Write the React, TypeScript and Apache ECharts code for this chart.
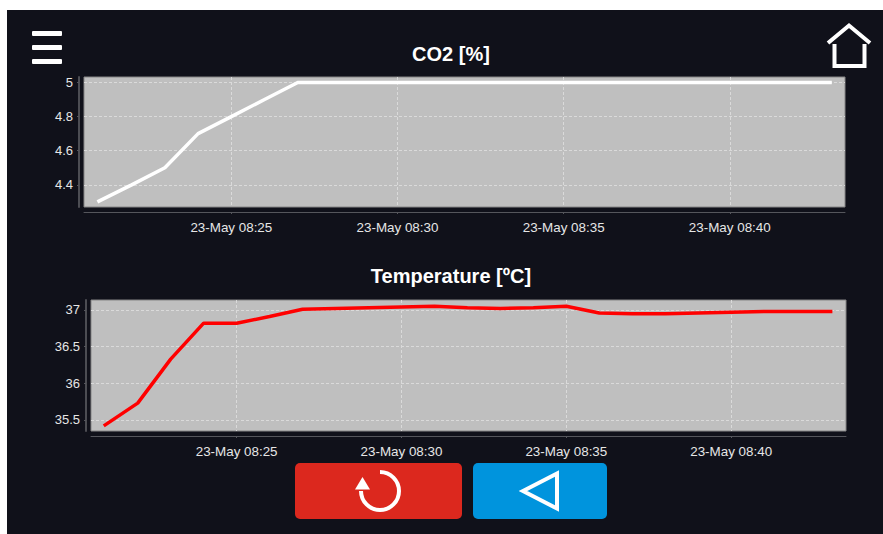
import React, { useEffect, useRef } from "react";
import * as echarts from "echarts";

const minutes = [20.97,22,23,24,25,26,27,28,29,30,31,32,33,34,35,36,37,38,39,40,41,42,43.07];
const co2Values = [4.3,4.4,4.5,4.7,4.8,4.9,5,5,5,5,5,5,5,5,5,5,5,5,5,5,5,5,5];
const tempValues = [35.42,35.73,36.33,36.82,36.82,36.91,37.01,37.02,37.03,37.04,37.05,37.03,37.02,37.03,37.05,36.96,36.95,36.95,36.96,36.97,36.98,36.98,36.98];
const tickMinutes = [25, 30, 35, 40];
const titles = ["CO2 [%]", "Temperature [ºC]"];

const FONT = "'Liberation Sans', Arial, sans-serif";
const BASE = Date.UTC(2023, 4, 23, 8, 0, 0);
const t = (m: number) => BASE + m * 60000;
const pad = (n: number) => String(n).padStart(2, "0");
const fmt = (v: number) => {
  const d = new Date(v);
  return `23-May ${pad(d.getUTCHours())}:${pad(d.getUTCMinutes())}`;
};
const splitStyle = { color: "#dadada", type: [3, 2], width: 1 };

const xAxis = (gridIndex: number, min: number, max: number) => ({
  type: "value" as const,
  gridIndex, min, max,
  offset: 5,
  axisLine: { show: true, onZero: false, lineStyle: { color: "#55565c", width: 1 } },
  axisTick: { show: true, length: 2, lineStyle: { color: "#55565c" }, customValues: tickMinutes.map(t) },
  axisLabel: {
    color: "#e6e6e6", fontFamily: FONT, fontSize: 13.4, margin: 9,
    customValues: tickMinutes.map(t),
    formatter: (v: number) => fmt(v),
  },
  splitLine: { show: true, lineStyle: splitStyle },
});

const yAxis = (gridIndex: number, min: number, max: number, splitNumber: number) => ({
  type: "value" as const,
  gridIndex, min, max, splitNumber,
  offset: 5,
  axisLine: { show: true, onZero: false, lineStyle: { color: "#4c4d53", width: 2 } },
  axisTick: { show: true, length: 2, lineStyle: { color: "#55565c" } },
  axisLabel: {
    color: "#e6e6e6", fontFamily: FONT, fontSize: 13, margin: 6,
    showMinLabel: false, showMaxLabel: false,
    formatter: (v: number) => String(v),
  },
  splitLine: { show: true, showMinLine: false, showMaxLine: false, lineStyle: splitStyle },
});

const stroke = (color = "#fff", lineWidth = 4) => ({ stroke: color, lineWidth, fill: "transparent" });

export default function App() {
  const ref = useRef<HTMLDivElement>(null);
  useEffect(() => {
    if (!ref.current) return;
    const chart = echarts.init(ref.current, undefined, { renderer: "svg" });
    chart.setOption({
      animation: false,
      backgroundColor: "transparent",
      title: [
        { text: titles[0], left: 451, top: 44, padding: 0, textAlign: "center", textStyle: { color: "#fff", fontFamily: FONT, fontSize: 20, fontWeight: "bold" } },
        { text: titles[1], left: 451, top: 266, padding: 0, textAlign: "center", textStyle: { color: "#fff", fontFamily: FONT, fontSize: 20, fontWeight: "bold" } },
      ],
      grid: [
        { left: 84, top: 77, width: 761, height: 130, show: true, backgroundColor: "#bfbfbf", borderColor: "#858585", borderWidth: 1, containLabel: false },
        { left: 91, top: 300, width: 755, height: 131, show: true, backgroundColor: "#bfbfbf", borderColor: "#858585", borderWidth: 1, containLabel: false },
      ],
      xAxis: [
        xAxis(0, t(20.567), t(43.467)),
        xAxis(1, t(20.583), t(43.483)),
      ],
      yAxis: [
        yAxis(0, 4.27, 5.032, 4),
        yAxis(1, 35.35, 37.136, 3),
      ],
      series: [
        {
          type: "line", name: titles[0], xAxisIndex: 0, yAxisIndex: 0, showSymbol: false,
          lineStyle: { color: "#ffffff", width: 3.5 },
          data: minutes.map((m, i) => [t(m), co2Values[i]]),
        },
        {
          type: "line", name: titles[1], xAxisIndex: 1, yAxisIndex: 1, showSymbol: false,
          lineStyle: { color: "#ff0000", width: 3.5 },
          data: minutes.map((m, i) => [t(m), tempValues[i]]),
        },
      ],
      graphic: [
        { type: "rect", shape: { x: 32, y: 31, width: 30, height: 5, r: 1 }, style: { fill: "#fff" } },
        { type: "rect", shape: { x: 32, y: 45, width: 30, height: 5, r: 1 }, style: { fill: "#fff" } },
        { type: "rect", shape: { x: 32, y: 59, width: 30, height: 5, r: 1 }, style: { fill: "#fff" } },
        { type: "polyline", shape: { points: [[828, 43], [849, 25.5], [870, 43]] }, style: stroke() },
        { type: "polyline", shape: { points: [[834.5, 44], [834.5, 66], [864.5, 66], [864.5, 44]] }, style: stroke() },
        { type: "rect", shape: { x: 295, y: 463, width: 167, height: 56, r: 5 }, style: { fill: "#dc281e" } },
        { type: "rect", shape: { x: 473, y: 463, width: 134, height: 56, r: 5 }, style: { fill: "#0094dd" } },
        { type: "arc", shape: { cx: 380, cy: 491, r: 19, startAngle: -Math.PI / 2, endAngle: Math.PI, clockwise: true }, style: stroke() },
        { type: "polygon", shape: { points: [[362.5, 477], [370, 489.5], [355, 489.5]] }, style: { fill: "#fff" } },
        { type: "polygon", shape: { points: [[523, 491], [557, 473.5], [557, 508.5]] }, style: stroke() },
      ],
    });
    return () => chart.dispose();
  }, []);
  return (
    <div style={{ position: "fixed", left: 0, top: 0, width: 883, height: 534, background: "#ffffff", overflow: "hidden" }}>
      <div style={{ position: "absolute", left: 7, top: 10, width: 876, height: 524, background: "#10111a" }} />
      <div ref={ref} style={{ position: "absolute", left: 0, top: 0, width: 883, height: 534 }} />
    </div>
  );
}
